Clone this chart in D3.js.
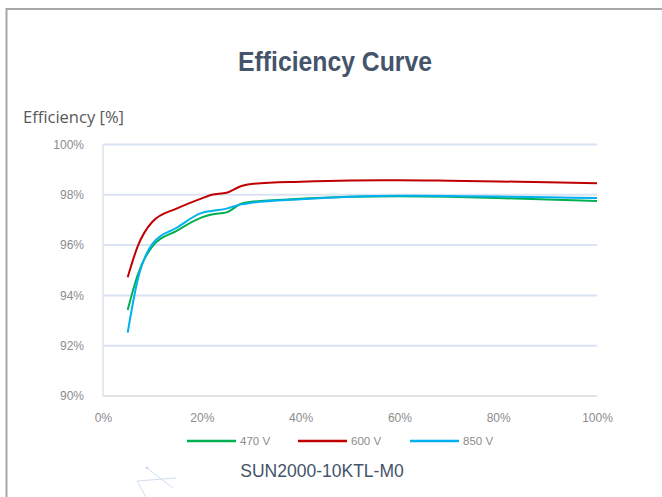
<!DOCTYPE html>
<html>
<head>
<meta charset="utf-8">
<script src="https://cdn.jsdelivr.net/npm/d3@7/dist/d3.min.js"></script>
<style>
  body { margin: 0; background: #fff; }
  svg { display: block; }
</style>
</head>
<body>
<div id="chart"></div>
<script>
// load level [%] and efficiency [%]
const loadLevels = [5, 7, 10, 15, 20, 22, 25, 28, 30, 40, 50, 60, 70, 80, 90, 100];
const eff470 = [93.42, 94.8, 95.95, 96.58, 97.1, 97.22, 97.3, 97.65, 97.72, 97.84, 97.92, 97.94, 97.92, 97.87, 97.81, 97.75];
const eff600 = [94.72, 95.94, 96.93, 97.46, 97.86, 98.0, 98.08, 98.35, 98.43, 98.52, 98.57, 98.58, 98.56, 98.53, 98.5, 98.46];
const eff850 = [92.52, 94.6, 96.05, 96.7, 97.28, 97.36, 97.45, 97.62, 97.68, 97.82, 97.92, 97.96, 97.95, 97.93, 97.9, 97.87];
const seriesNames = ['470 V', '600 V', '850 V'];
const seriesColors = ['#00b050', '#c00000', '#00b0f0'];
const xTicks = [0, 20, 40, 60, 80, 100];
const yTicks = [90, 92, 94, 96, 98, 100];

const W = 662, H = 497;
const plot = { left: 103, right: 597, top: 144.5, bottom: 396 };

const svg = d3.select('#chart').append('svg')
  .attr('width', W)
  .attr('height', H);

//outer frame
svg.append('path')
  .attr('d', `M6.5,${H} L6.5,9 L${W},9`)
  .attr('fill', 'none')
  .attr('stroke', '#a5a8ab')
  .attr('stroke-width', 2);

//faint decoration bottom left
const deco = svg.append('g')
  .attr('stroke', '#c5d5ec')
  .attr('stroke-width', 0.8)
  .attr('fill', 'none');
deco.append('line').attr('x1', 147).attr('y1', 468).attr('x2', 173).attr('y2', 488);
deco.append('line').attr('x1', 137).attr('y1', 481).attr('x2', 176).attr('y2', 478);
deco.append('line').attr('x1', 137).attr('y1', 481).attr('x2', 146).attr('y2', 497);
deco.append('circle').attr('cx', 147).attr('cy', 468).attr('r', 1.3).attr('fill', '#c5d5ec').attr('stroke', 'none');

//titles
svg.append('text')
  .attr('x', 238)
  .attr('y', 71)
  .attr('textLength', 194)
  .attr('lengthAdjust', 'spacingAndGlyphs')
  .style('font-family', 'Liberation Sans, Arial, sans-serif')
  .style('font-size', '28px')
  .style('font-weight', 'bold')
  .style('fill', '#44546a')
  .text('Efficiency Curve');

svg.append('text')
  .attr('x', 23)
  .attr('y', 123)
  .attr('textLength', 101)
  .attr('lengthAdjust', 'spacingAndGlyphs')
  .style('font-family', 'Open Sans, sans-serif')
  .style('font-size', '16px')
  .style('fill', '#595959')
  .text('Efficiency [%]');

svg.append('text')
  .attr('x', 322)
  .attr('y', 477)
  .attr('text-anchor', 'middle')
  .style('font-family', 'Liberation Sans, Arial, sans-serif')
  .style('font-size', '17.5px')
  .style('fill', '#44546a')
  .text('SUN2000-10KTL-M0');

//scales
const x = d3.scaleLinear().domain([0, 100]).range([plot.left, plot.right]);
const y = d3.scaleLinear().domain([90, 100]).range([plot.bottom, plot.top]);

//grid
svg.append('g')
  .selectAll('line')
  .data(yTicks.slice(1))
  .join('line')
  .attr('x1', plot.left)
  .attr('x2', plot.right)
  .attr('y1', d => y(d))
  .attr('y2', d => y(d))
  .attr('stroke', '#dae3f3')
  .attr('stroke-width', 2);

//axes lines
svg.append('line')
  .attr('x1', plot.left).attr('x2', plot.left)
  .attr('y1', plot.top).attr('y2', plot.bottom)
  .attr('stroke', '#dde3ec').attr('stroke-width', 1.5);
svg.append('line')
  .attr('x1', plot.left).attr('x2', plot.right)
  .attr('y1', plot.bottom).attr('y2', plot.bottom)
  .attr('stroke', '#e3e3e3').attr('stroke-width', 2);

//axis labels
const yAxis = d3.axisLeft(y).tickValues(yTicks).tickSize(0).tickPadding(19).tickFormat(d => d + '%');
const yG = svg.append('g').attr('transform', `translate(${plot.left},0)`).call(yAxis);
yG.select('.domain').remove();
yG.selectAll('text')
  .style('font-family', 'Liberation Sans, Arial, sans-serif')
  .style('font-size', '12px')
  .style('fill', '#8c8c8c');

const xAxis = d3.axisBottom(x).tickValues(xTicks).tickSize(0).tickPadding(17).tickFormat(d => d + '%');
const xG = svg.append('g').attr('transform', `translate(0,${plot.bottom})`).call(xAxis);
xG.select('.domain').remove();
xG.selectAll('text')
  .style('font-family', 'Liberation Sans, Arial, sans-serif')
  .style('font-size', '12px')
  .style('fill', '#8c8c8c');

//curves
const series = [eff470, eff600, eff850];
const line = d3.line()
  .x((d, i) => x(loadLevels[i]))
  .y(d => y(d))
  .curve(d3.curveMonotoneX);

svg.append('g')
  .selectAll('path')
  .data(series)
  .join('path')
  .attr('d', line)
  .attr('fill', 'none')
  .attr('stroke', (d, i) => seriesColors[i])
  .attr('stroke-width', 2);

//legend
const legendX = [187, 298, 410];
const lg = svg.append('g')
  .selectAll('g')
  .data(seriesNames)
  .join('g')
  .attr('transform', (d, i) => `translate(${legendX[i]},441)`);
lg.append('line')
  .attr('x1', 0).attr('x2', 49)
  .attr('stroke', (d, i) => seriesColors[i])
  .attr('stroke-width', 2.5);
lg.append('text')
  .attr('x', 53)
  .attr('y', 4)
  .style('font-family', 'Liberation Sans, Arial, sans-serif')
  .style('font-size', '11.5px')
  .style('fill', '#8c8c8c')
  .text(d => d);
</script>
</body>
</html>
